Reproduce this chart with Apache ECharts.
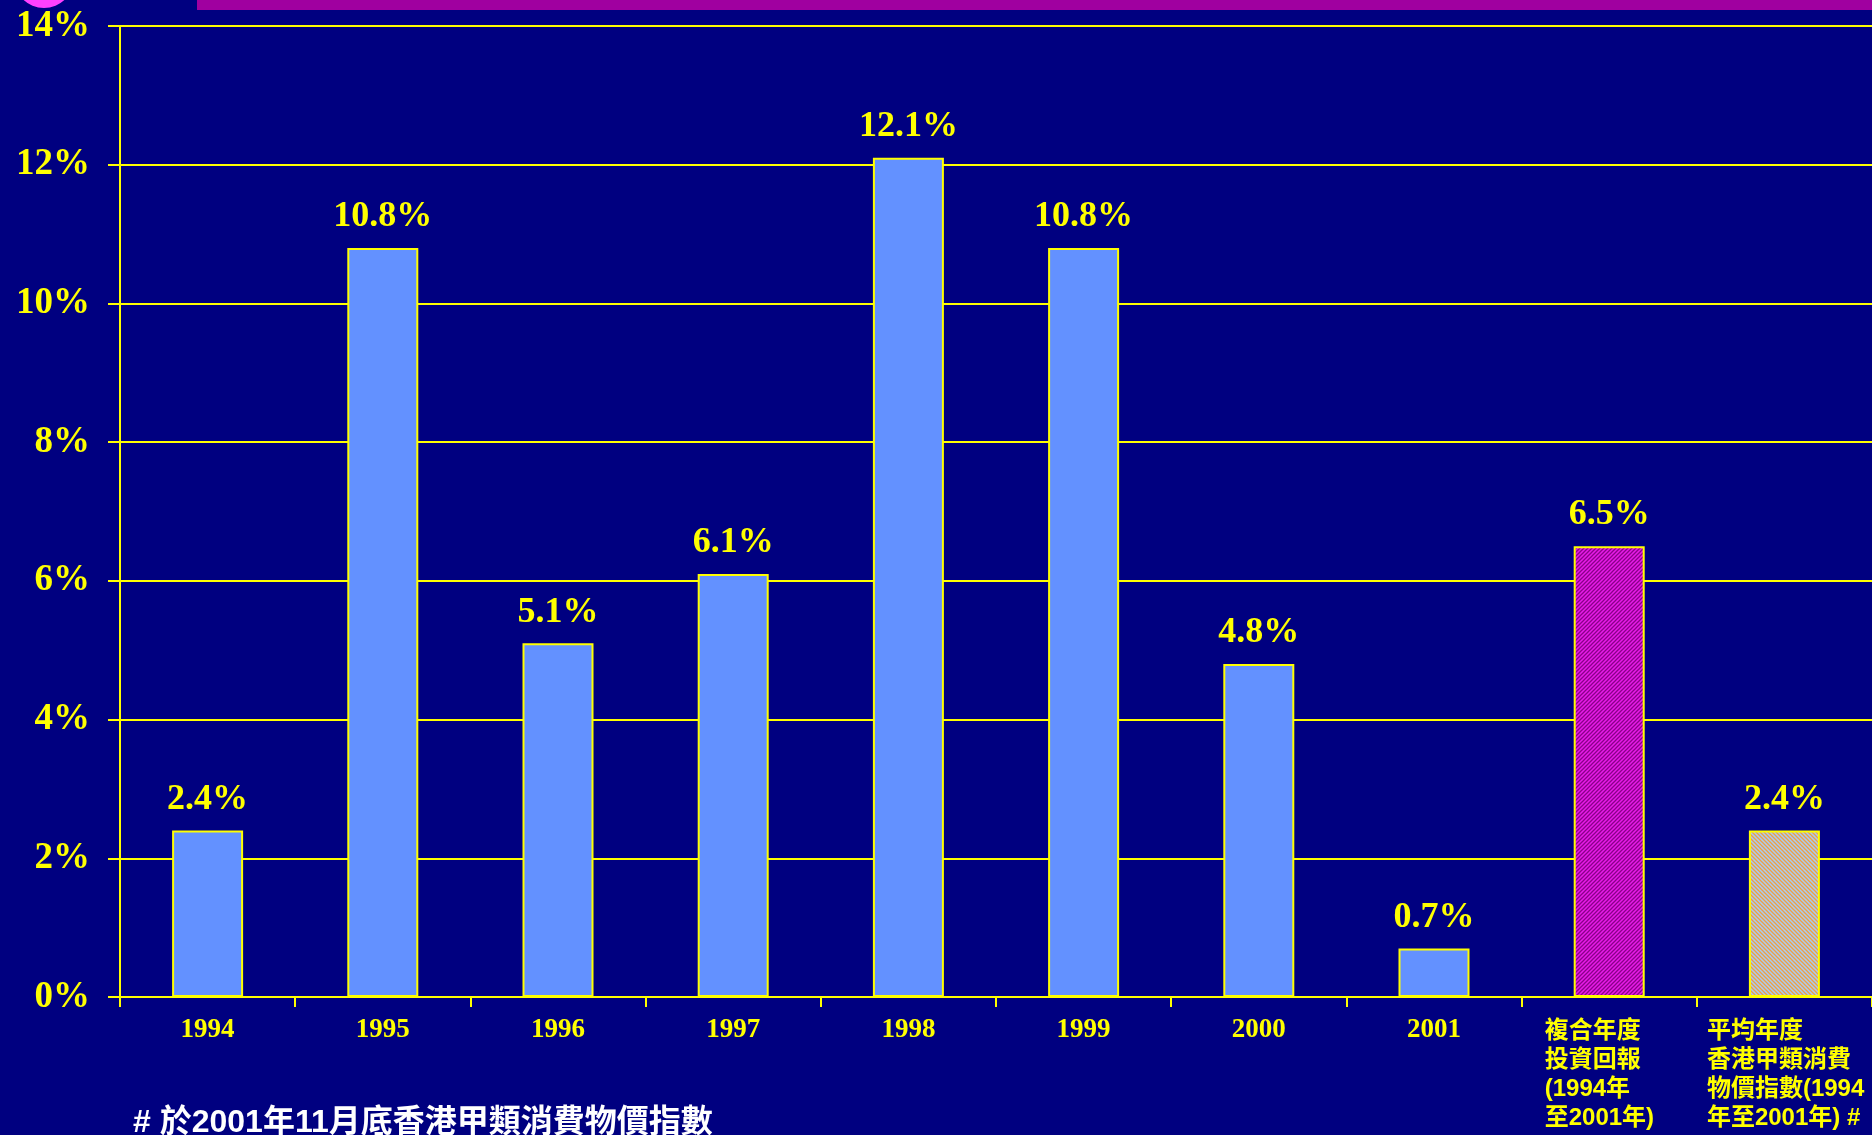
<!DOCTYPE html>
<html>
<head>
<meta charset="utf-8">
<script src="https://cdn.jsdelivr.net/npm/echarts@6/dist/echarts.min.js"></script>
<style>
html,body{margin:0;padding:0;background:#000080;}
#chart{width:1872px;height:1135px;}
</style>
</head>
<body>
<div id="chart"></div>
<script>
// ---- data ----
var categories = ['1994','1995','1996','1997','1998','1999','2000','2001',
  '複合年度\n投資回報\n(1994年\n至2001年)',
  '平均年度\n香港甲類消費\n物價指數(1994\n年至2001年) #'];
var values = [2.4, 10.8, 5.1, 6.1, 12.1, 10.8, 4.8, 0.7, 6.5, 2.4];
var yTicks = [0, 2, 4, 6, 8, 10, 12, 14];
var footnote = '# 於2001年11月底香港甲類消費物價指數';

function makePattern(bg, fg, dir) {
  var s = 4;
  var c = document.createElement('canvas');
  c.width = s; c.height = s;
  var g = c.getContext('2d');
  g.fillStyle = bg; g.fillRect(0, 0, s, s);
  g.strokeStyle = fg; g.lineWidth = 1.3;
  g.beginPath();
  if (dir === '/') {
    g.moveTo(0, s); g.lineTo(s, 0);
    g.moveTo(-1, 1); g.lineTo(1, -1);
    g.moveTo(s - 1, s + 1); g.lineTo(s + 1, s - 1);
  } else {
    g.moveTo(0, 0); g.lineTo(s, s);
    g.moveTo(-1, s - 1); g.lineTo(1, s + 1);
    g.moveTo(s - 1, -1); g.lineTo(s + 1, 1);
  }
  g.stroke();
  return {image: c, repeat: 'repeat'};
}

var fills = {
  8: makePattern('#E81CE8', '#8A008A', '/'),
  9: makePattern('#A8CCF4', '#F0A040', '\\')
};

var chart = echarts.init(document.getElementById('chart'), null, {renderer: 'canvas'});
var YEL = '#FFFF00';
var serif = '"Liberation Serif", "Times New Roman", serif';
var sans = '"Liberation Sans", "Noto Sans CJK TC", sans-serif';

var option = {
  backgroundColor: '#000080',
  animation: false,
  graphic: [
    {type: 'rect', shape: {x: 197, y: 0, width: 1675, height: 10}, style: {fill: '#A000A0'}},
    {type: 'circle', shape: {cx: 44, cy: -22, r: 30}, style: {fill: '#FF40FF'}},
    {type: 'text', left: 133, top: 1107,
      style: {text: footnote, fill: '#FFFFFF', font: 'bold 32px ' + sans}}
  ],
  grid: {left: 120, top: 26, width: 1772, height: 971, containLabel: false},
  xAxis: {
    type: 'category',
    data: categories,
    axisLine: {show: true, lineStyle: {color: YEL, width: 2}},
    axisTick: {show: true, length: 10, lineStyle: {color: YEL, width: 2}},
    axisLabel: {
      interval: 0,
      margin: 20,
      formatter: function (v, i) {
        if (i < 8) return '{yr|' + v + '}';
        var tag = i === 8 ? 'c1' : 'c2';
        return v.split('\n').map(function (l) { return '{' + tag + '|' + l + '}'; }).join('\n');
      },
      rich: {
        yr: {fontFamily: serif, fontWeight: 'bold', fontSize: 27, color: YEL},
        c1: {fontFamily: sans, fontWeight: 'bold', fontSize: 24, lineHeight: 29, color: YEL, width: 129, align: 'left'},
        c2: {fontFamily: sans, fontWeight: 'bold', fontSize: 24, lineHeight: 29, color: YEL, width: 155, align: 'left'}
      }
    }
  },
  yAxis: {
    type: 'value',
    min: yTicks[0],
    max: yTicks[yTicks.length - 1],
    interval: 2,
    axisLine: {show: true, lineStyle: {color: YEL, width: 2}},
    axisTick: {show: true, length: 12, lineStyle: {color: YEL, width: 2}},
    splitLine: {show: true, lineStyle: {color: YEL, width: 2}},
    axisLabel: {
      formatter: '{value}%', margin: 30,
      color: YEL, fontFamily: serif, fontWeight: 'bold', fontSize: 37
    }
  },
  series: [{
    type: 'bar',
    barWidth: 71,
    data: values.map(function (v, i) {
      return {value: v, itemStyle: {color: fills[i] || '#6391FF', borderColor: YEL, borderWidth: 2}};
    }),
    label: {
      show: true, position: 'top', distance: 13,
      formatter: function (p) { return p.value.toFixed(1) + '%'; },
      color: YEL, fontFamily: serif, fontWeight: 'bold', fontSize: 36
    }
  }]
};
chart.setOption(option);
</script>
</body>
</html>
